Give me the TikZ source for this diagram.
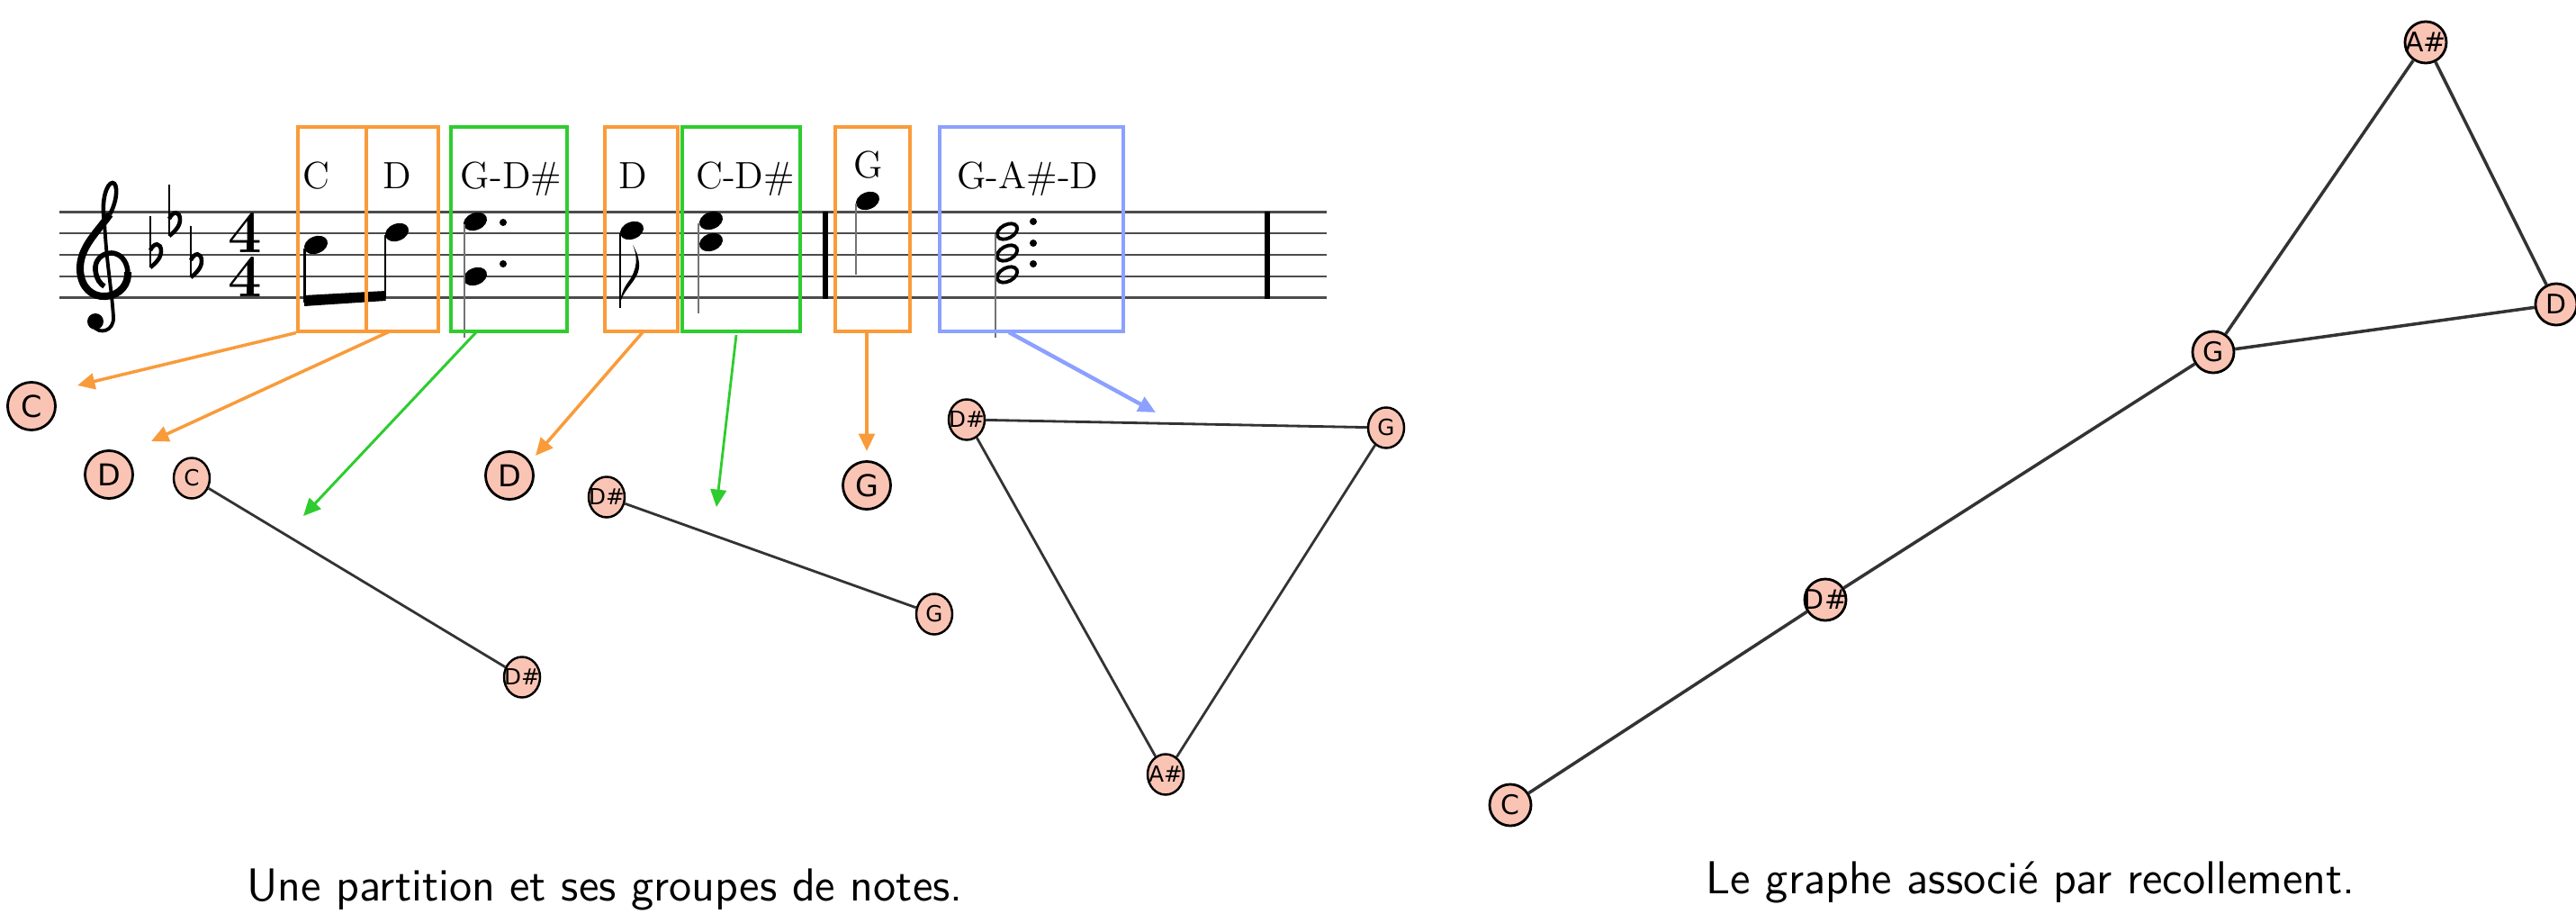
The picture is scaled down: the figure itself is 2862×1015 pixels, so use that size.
\documentclass[tikz,border=0pt]{standalone}
\usepackage{fontspec}
\newfontfamily\nodefont{DejaVu Sans}
\usetikzlibrary{arrows.meta,shapes.geometric}
\definecolor{orng}{HTML}{F99B3A}
\definecolor{grn}{HTML}{2ECC2E}
\definecolor{blu}{HTML}{8CA0FF}
\definecolor{nfill}{HTML}{FAC4B4}
\definecolor{edgec}{HTML}{333333}
\newcommand\ntext[1]{\makebox[0pt][c]{#1}}
\newcommand\flatsym[2]{%
  \draw[line width=0.8pt] ({#1},{#2-57}) -- ({#1},{#2});
  \draw[line width=1.3pt] ({#1},{#2-19}) .. controls ({#1+4},{#2-28}) and ({#1+12},{#2-28}) .. ({#1+12},{#2-18}) .. controls ({#1+12},{#2-10}) and ({#1+5},{#2-4}) .. ({#1},{#2});}
\newcommand\headfull[2]{\fill[shift={(#1,#2)},rotate=22] (0,0) ellipse [x radius=13.5, y radius=9.5];}
\newcommand\headopen[2]{\draw[line width=1.1pt,shift={(#1,#2)},rotate=28] (0,0) ellipse [x radius=12, y radius=7.5];}
\tikzset{
  grpbox/.style={draw=#1, line width=1.15pt, inner sep=0pt, minimum height=2.26cm},
  grplabel/.style={anchor=base, inner sep=0pt, font=\fontsize{12}{12}\selectfont},
  grparrow/.style={draw=#1, line width=1pt, -{Triangle[length=5.5pt,width=5pt]}},
  bignode/.style={circle, draw=black, line width=0.8pt, fill=nfill, minimum size=0.53cm, inner sep=0pt, font=\nodefont\fontsize{9.5}{9.5}\selectfont},
  smallnode/.style={ellipse, draw=black, line width=0.7pt, fill=nfill, minimum width=0.40cm, minimum height=0.45cm, inner sep=0pt, font=\nodefont\fontsize{7}{7}\selectfont},
  rnode/.style={circle, draw=black, line width=0.8pt, fill=nfill, minimum size=0.46cm, inner sep=0pt, font=\nodefont\fontsize{8.5}{8.5}\selectfont},
  gedge/.style={draw=edgec, line width=0.8pt},
  redge/.style={draw=edgec, line width=1pt},
  staffline/.style={draw=black!70, line width=0.85pt},
  stemline/.style={draw=black!55, line width=0.6pt},
  timesig/.style={inner sep=0pt, align=center, font=\fontsize{19}{14.2}\selectfont\bfseries},
  caption/.style={anchor=base, inner sep=0pt, font=\sffamily\fontsize{14.6}{16}\selectfont}
}
\begin{document}
\begin{tikzpicture}[x=0.01cm,y=-0.01cm]
\useasboundingbox (0,0) rectangle (2862,1015);
% staff
\foreach \yy in {235.5,259,283,307,330.5}
  \draw[staffline] (66,\yy) -- (1474,\yy);
% treble clef
\draw[line width=1.3pt] (116,245) .. controls (112,222) and (119,203) .. (125,203)
  .. controls (131,203) and (131,222) .. (122,238);
\draw[line width=2.3pt] (122,238)
  .. controls (108,258) and (88,275) .. (89,300)
  .. controls (90,320) and (103,330) .. (117,329)
  .. controls (134,328) and (143,315) .. (142,302);
\draw[line width=1.6pt] (142,302)
  .. controls (141,288) and (132,281) .. (124,281)
  .. controls (112,281) and (105,290) .. (106,300)
  .. controls (107,310) and (112,316) .. (116,318);
\draw[line width=1.1pt] (116,245) .. controls (118,290) and (124,320) .. (126,352)
  .. controls (127,368) and (110,372) .. (104,362);
\fill (106,357) circle [radius=9];
% key signature
\flatsym{167}{297}
\flatsym{188}{262}
\flatsym{212}{308}
% time signature
\node[timesig] (ts) at (272,283) {4\\4};
% C, D beamed eighths
\headfull{351}{272}
\headfull{441}{258}
\draw[line width=0.7pt] (338.5,276) -- (338.5,336);
\draw[line width=0.7pt] (428,261) -- (428,331);
\fill (338,328) -- (428.5,323) -- (428.5,334) -- (338,340) -- cycle;
% G-D# dotted
\headfull{528}{246}
\headfull{528}{307}
\draw[stemline] (516,249) -- (516,375);
\fill (559,247) circle [radius=4];
\fill (559,293) circle [radius=4];
% D eighth
\headfull{702}{256}
\draw[line width=0.7pt] (689,259) -- (689,342);
\fill (688,342) .. controls (690,320) and (712,312) .. (710,292)
  .. controls (709,283) and (706,277) .. (703,272)
  .. controls (709,285) and (708,300) .. (698,313)
  .. controls (692,321) and (689,330) .. (688,342) -- cycle;
% C-D# chord
\headfull{790}{245}
\headfull{790}{269}
\draw[stemline] (776,248) -- (776,348);
% bar line
\draw[line width=1.5pt] (917,235) -- (917,332);
% G
\headfull{964}{223}
\draw[stemline] (951,226) -- (951,305);
% G-A#-D chord
\headopen{1119}{257}
\headopen{1119}{281}
\headopen{1119}{305}
\draw[stemline] (1106,260) -- (1106,375);
\fill (1148,246) circle [radius=4];
\fill (1148,270) circle [radius=4];
\fill (1148,293) circle [radius=4];
% final bar
\draw[line width=1.7pt] (1408,235) -- (1408,332);
% group boxes
\node[grpbox=orng, minimum width=0.76cm] (bC) at (369,254.5) {};
\node[grpbox=orng, minimum width=0.80cm] (bD) at (447,254.5) {};
\node[grpbox=grn, minimum width=1.29cm] (bGDs) at (565.5,254.5) {};
\node[grpbox=orng, minimum width=0.81cm] (bD2) at (712.5,254.5) {};
\node[grpbox=grn, minimum width=1.31cm] (bCDs) at (823.5,254.5) {};
\node[grpbox=orng, minimum width=0.83cm] (bG) at (969.5,254.5) {};
\node[grpbox=blu, minimum width=2.04cm] (bGAD) at (1146,254.5) {};
\node[grplabel] (lbC) at (351,209) {C};
\node[grplabel] (lbD) at (441,209) {D};
\node[grplabel] (lbGDs) at (568,209) {G-D\#};
\node[grplabel] (lbD2) at (703,209) {D};
\node[grplabel] (lbCDs) at (828,209) {C-D\#};
\node[grplabel] (lbG) at (965,197) {G};
\node[grplabel] (lbGAD) at (1142,209) {G-A\#-D};
% arrow ends
\coordinate (a1s) at (bC.south west);
\coordinate (a2s) at (433,368);
\coordinate (a3s) at (529,369);
\coordinate (a4s) at (714,369);
\coordinate (a5s) at (818,372);
\coordinate (a6s) at (963,369);
\coordinate (a7s) at (1121,369);
\coordinate (a1e) at (86,428);
\coordinate (a2e) at (168,490);
\coordinate (a3e) at (337,573);
\coordinate (a4e) at (595,506);
\coordinate (a5e) at (796,563);
\coordinate (a6e) at (963,501);
\coordinate (a7e) at (1284,458);
\draw[grparrow=orng] (a1s) -- (a1e);
\draw[grparrow=orng] (a2s) -- (a2e);
\draw[grparrow=grn, line width=0.85pt] (a3s) -- (a3e);
\draw[grparrow=orng] (a4s) -- (a4e);
\draw[grparrow=grn, line width=0.8pt] (a5s) -- (a5e);
\draw[grparrow=orng] (a6s) -- (a6e);
\draw[grparrow=blu, line width=1.25pt] (a7s) -- (a7e);
% left graphs
\node[bignode] (lC) at (35,451) {\ntext{C}};
\node[bignode] (lD) at (121,527) {\ntext{D}};
\node[smallnode] (lC2) at (213,531) {\ntext{C}};
\node[smallnode] (lDs1) at (580,752) {\ntext{D\#}};
\node[bignode] (lD2) at (566,528) {\ntext{D}};
\node[smallnode] (lDs2) at (674,552) {\ntext{D\#}};
\node[smallnode] (lG2) at (1038,682) {\ntext{G}};
\node[bignode] (lG) at (963,539) {\ntext{G}};
\node[smallnode] (tDs) at (1074,466) {\ntext{D\#}};
\node[smallnode] (tG) at (1540,475) {\ntext{G}};
\node[smallnode] (tAs) at (1295,860) {\ntext{A\#}};
\draw[gedge] (lC2) -- (lDs1);
\draw[gedge] (lDs2) -- (lG2);
\draw[gedge] (tDs) -- (tG);
\draw[gedge] (tDs) -- (tAs);
\draw[gedge] (tG) -- (tAs);
% right graph
\node[rnode] (rAs) at (2695,47) {\ntext{A\#}};
\node[rnode] (rD) at (2840,338) {\ntext{D}};
\node[rnode] (rG) at (2459,391) {\ntext{G}};
\node[rnode] (rDs) at (2028,666) {\ntext{D\#}};
\node[rnode] (rC) at (1678,894) {\ntext{C}};
\draw[redge] (rAs) -- (rG);
\draw[redge] (rAs) -- (rD);
\draw[redge] (rG) -- (rD);
\draw[redge] (rG) -- (rDs);
\draw[redge] (rDs) -- (rC);
% captions
\node[caption] (cap1) at (672,1000) {Une partition et ses groupes de notes.};
\node[caption] (cap2) at (2256,992) {Le graphe associé par recollement.};
\end{tikzpicture}
\end{document}
